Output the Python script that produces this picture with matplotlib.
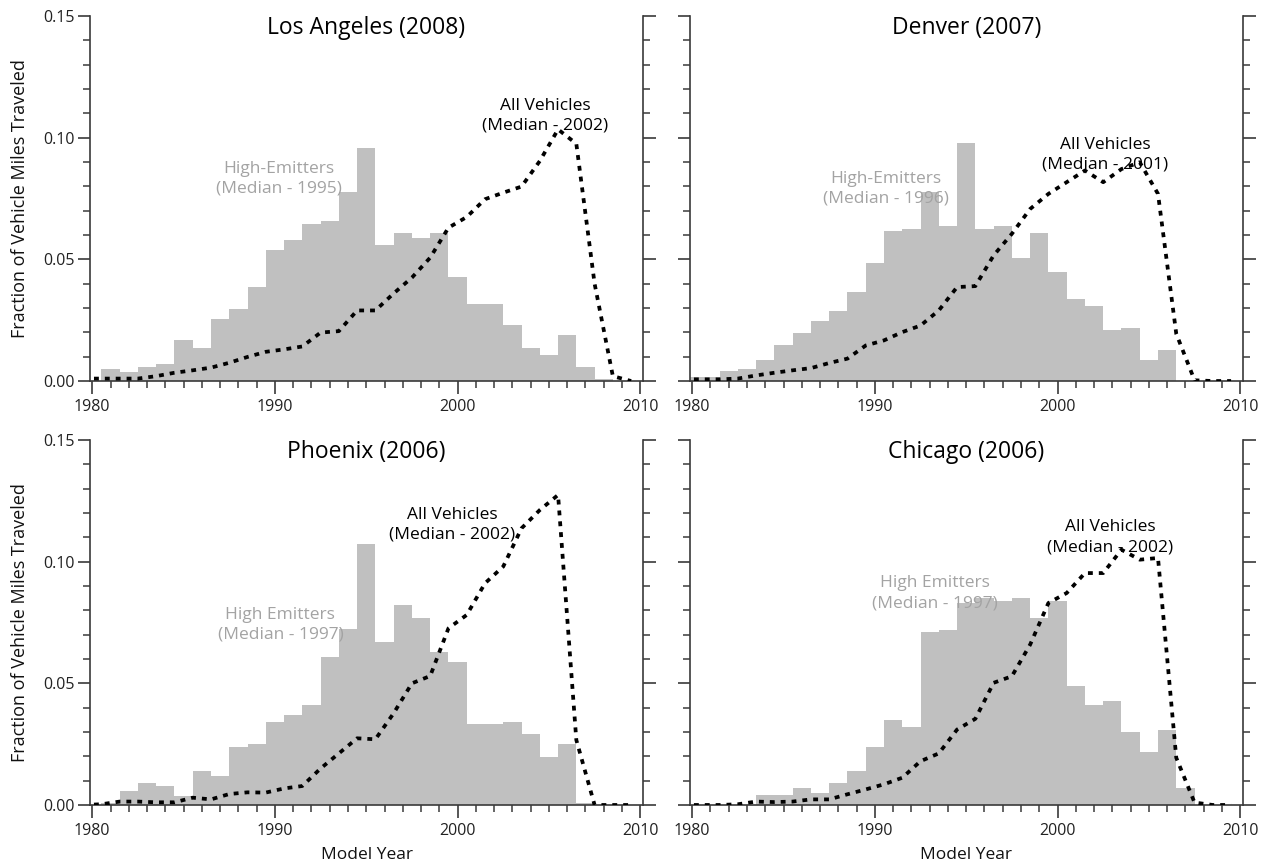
import numpy as np
import matplotlib
matplotlib.use("Agg")
import matplotlib.pyplot as plt
from matplotlib.ticker import MultipleLocator, FormatStrFormatter

plt.rcParams['font.family'] = ['Open Sans', 'DejaVu Sans']

# Model years for the high-emitter histogram (one bar per model year)
bar_years = np.arange(1980, 2010)
# Fleet curve sampled between model years
line_years = np.arange(1979.5, 2010.0, 1.0)

# Fraction of VMT from high emitters, by model year
la_high = [0.0, 0.0048, 0.0038, 0.0058, 0.0068, 0.0167, 0.0137, 0.0256, 0.0297, 0.0388,
           0.0537, 0.0578, 0.0647, 0.0658, 0.0777, 0.0959, 0.0558, 0.0608, 0.0586, 0.0608,
           0.0427, 0.0315, 0.0315, 0.0229, 0.0137, 0.0107, 0.0188, 0.0058, 0.0007, 0.0]
denver_high = [0.0015, 0.0015, 0.0040, 0.0048, 0.0088, 0.0146, 0.0197, 0.0246, 0.0286, 0.0365,
               0.0486, 0.0616, 0.0625, 0.0775, 0.0636, 0.0977, 0.0625, 0.0636, 0.0506, 0.0607,
               0.0447, 0.0338, 0.0308, 0.0208, 0.0218, 0.0088, 0.0129, 0.0, 0.0, 0.0]
phoenix_high = [0.0, 0.0007, 0.0059, 0.0089, 0.0079, 0.0038, 0.0140, 0.0119, 0.0240, 0.0251,
                0.0340, 0.0370, 0.0410, 0.0610, 0.0722, 0.1071, 0.0671, 0.0822, 0.0770, 0.0630,
                0.0589, 0.0332, 0.0332, 0.0340, 0.0290, 0.0199, 0.0251, 0.0007, 0.0, 0.0]
chicago_high = [0.0, 0.0, 0.0, 0.0, 0.0040, 0.0040, 0.0071, 0.0051, 0.0089, 0.0139,
                0.0239, 0.0349, 0.0320, 0.0710, 0.0718, 0.0830, 0.0850, 0.0840, 0.0849, 0.0768,
                0.0840, 0.0488, 0.0409, 0.0429, 0.0300, 0.0219, 0.0308, 0.0071, 0.0, 0.0]

# Fraction of VMT from all vehicles
la_all = [0.001, 0.001, 0.001, 0.001, 0.0020, 0.0034, 0.0044, 0.0055, 0.0075, 0.0099,
          0.0120, 0.0130, 0.0142, 0.0199, 0.0205, 0.0290, 0.0290, 0.0360, 0.0425, 0.0507,
          0.0630, 0.0674, 0.0747, 0.0774, 0.0799, 0.0904, 0.1034, 0.0975, 0.0400, 0.0020, 0.0]
denver_all = [0.0007, 0.0007, 0.0007, 0.0010, 0.0023, 0.0034, 0.0044, 0.0053, 0.0074, 0.0092,
              0.0146, 0.0167, 0.0201, 0.0228, 0.0290, 0.0386, 0.0390, 0.0516, 0.0605, 0.0707,
              0.0769, 0.0817, 0.0865, 0.0817, 0.0871, 0.0899, 0.0769, 0.0194, 0.0003, 0.0, 0.0]
phoenix_all = [0.0, 0.0003, 0.0014, 0.0014, 0.0011, 0.0011, 0.0030, 0.0023, 0.0045, 0.0052,
               0.0051, 0.0068, 0.0078, 0.0150, 0.0212, 0.0274, 0.0270, 0.0377, 0.0500, 0.0530,
               0.0726, 0.0781, 0.0911, 0.0980, 0.1137, 0.1212, 0.1274, 0.0267, 0.0, 0.0, 0.0]
chicago_all = [0.0, 0.0, 0.0, 0.0003, 0.0014, 0.0012, 0.0014, 0.0023, 0.0023, 0.0044,
               0.0064, 0.0085, 0.0112, 0.0180, 0.0212, 0.0310, 0.0354, 0.0502, 0.0529, 0.0659,
               0.0830, 0.0871, 0.0953, 0.0953, 0.1049, 0.1008, 0.1015, 0.0194, 0.0010, 0.0, 0.0]

titles = ["Los Angeles (2008)", "Denver (2007)", "Phoenix (2006)", "Chicago (2006)"]
high_labels = ["High-Emitters\n(Median - 1995)", "High-Emitters\n(Median - 1996)",
               "High Emitters\n(Median - 1997)", "High Emitters\n(Median - 1997)"]
all_labels = ["All Vehicles\n(Median - 2002)", "All Vehicles\n(Median - 2001)",
              "All Vehicles\n(Median - 2002)", "All Vehicles\n(Median - 2002)"]
x_ticks = [1980, 1990, 2000, 2010]
y_ticks = [0.00, 0.05, 0.10, 0.15]

BAR_GREY = '#c0c0c0'
TEXT_GREY = '#a3a3a3'
SPINE = '#3a3a3a'

fig = plt.figure(figsize=(12.7, 8.64), dpi=100)
W, H = 0.4354, 0.4225
rects = [(0.0709, 0.5590), (0.5433, 0.5590), (0.0709, 0.0683), (0.5433, 0.0683)]

panels = [
    (la_high, la_all, (1990.2, 0.083), (2004.8, 0.109)),
    (denver_high, denver_all, (1990.6, 0.079), (2002.6, 0.093)),
    (phoenix_high, phoenix_all, (1990.3, 0.074), (1999.7, 0.115)),
    (chicago_high, chicago_all, (1993.3, 0.087), (2002.9, 0.110)),
]

for i, ((x0, y0), (high, allv, hpos, apos)) in enumerate(zip(rects, panels)):
    ax = fig.add_axes([x0, y0, W, H])
    ax.bar(bar_years, high, width=1.0, color=BAR_GREY, linewidth=0, zorder=1)
    ax.plot(line_years, allv, color='black', lw=2.7,
            linestyle=(0, (1.3, 1.6)), dash_capstyle='butt', zorder=3)

    ax.set_xlim(1979.88, 2010.15)
    ax.set_ylim(0, 0.15)
    ax.spines['top'].set_visible(False)
    for s in ('left', 'right', 'bottom'):
        ax.spines[s].set_color(SPINE)
        ax.spines[s].set_linewidth(1.2)

    ax.set_xticks(x_ticks)
    ax.set_yticks(y_ticks)
    ax.xaxis.set_minor_locator(MultipleLocator(1))
    ax.yaxis.set_minor_locator(MultipleLocator(0.01))
    ax.tick_params(axis='both', which='major', direction='out', length=9,
                   width=1.2, color=SPINE, labelsize=11.5, labelcolor='#222222')
    ax.tick_params(axis='both', which='minor', direction='out', length=5,
                   width=1.1, color=SPINE)
    ax.tick_params(axis='y', which='both', right=True, left=True, pad=2)
    ax.tick_params(axis='x', pad=4)
    ax.yaxis.set_major_formatter(FormatStrFormatter('%.2f'))
    if i % 2 == 1:
        ax.set_yticklabels([])
    else:
        ax.set_ylabel("Fraction of Vehicle Miles Traveled", fontsize=13, color='#111111')
        ax.yaxis.set_label_coords(-0.11, 0.5)
    if i >= 2:
        ax.set_xlabel("Model Year", fontsize=12.5, color='#111111', labelpad=6)

    ax.text(0.5, 0.967, titles[i], transform=ax.transAxes, ha='center', va='center',
            fontsize=16.5, color='black')
    ax.text(hpos[0], hpos[1], high_labels[i], ha='center', va='center',
            fontsize=12.5, color=TEXT_GREY, linespacing=1.3)
    ax.text(apos[0], apos[1], all_labels[i], ha='center', va='center',
            fontsize=12.5, color='black', linespacing=1.3)

fig.savefig("out.png", dpi=100)
